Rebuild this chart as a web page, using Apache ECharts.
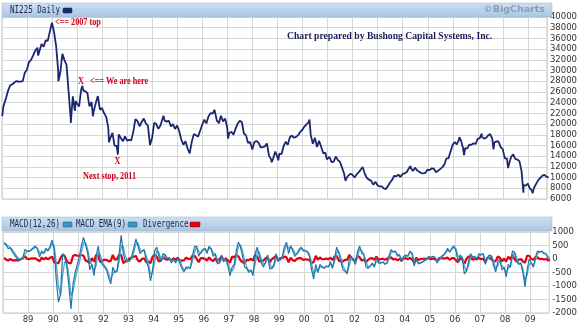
<!DOCTYPE html>
<html><head><meta charset="utf-8">
<script src="https://cdn.jsdelivr.net/npm/echarts@6/dist/echarts.min.js"></script>
<style>html,body{margin:0;padding:0;background:#fff}#c{width:580px;height:331px}</style>
</head><body><div id="c"></div>
<script>
// ---- DATA (monthly, Jan 1988 .. Oct 2009) ----
const firstYear = 1988;
const yearLabels = ['89','90','91','92','93','94','95','96','97','98','99','00','01','02','03','04','05','06','07','08','09'];

// NI225 monthly closes
const nikkeiClose = [
  23622,24850,26260,27256,27417,27769,28024,27911,27924,28020,29578,30159,
  31581,31985,32838,33713,34266,32948,34953,34431,35636,35549,37268,38916,
  37189,34591,29980,29584,33130,31940,31035,25978,20984,25194,22454,23849,
  23293,26409,26292,26111,25790,23291,24121,22336,23916,25222,22687,22984,
  22023,21339,19346,17391,18348,15952,15910,18061,17399,16768,17684,16925,
  17024,16953,18591,20920,20552,19590,20381,21027,20106,19704,16408,17417,
  20229,19998,19112,19725,20974,20644,20449,20629,19564,19990,19077,19723,
  18650,17054,16140,16807,15437,14517,16678,18117,17913,17655,18744,19868,
  20813,20125,21407,22041,21956,22531,20693,20167,21556,20467,21020,19361,
  18330,18557,18003,19151,20069,20605,20331,18229,17888,16459,16636,15259,
  16628,16832,16527,15641,15671,15830,16379,14108,13406,13565,14883,13842,
  14499,14368,15837,16701,16112,17530,17862,17437,17605,17942,18558,18934,
  19540,19960,20337,17974,16332,17411,15727,16861,15747,14540,14649,13786,
  13844,12884,12999,13934,13262,12969,11861,10714,9775,10366,10697,10543,
  9998,10588,11025,11493,11764,10622,9877,9619,9383,8640,9216,8579,
  8340,8363,7973,7831,8425,9083,9563,10344,10219,10560,10101,10677,
  10784,11042,11715,11762,11236,11858,11326,11082,10824,10771,10899,11489,
  11388,11741,11669,11009,11277,11584,11900,12414,13574,13607,14872,16111,
  16650,16205,17060,16906,15467,15505,15457,16141,16128,16399,16274,17226,
  17383,17604,17288,17400,17876,18138,17249,16569,16786,16737,15681,15308,
  13592,13603,12526,13850,14338,13481,13377,13073,11260,8577,8512,8860,
  7994,7568,8110,8828,9523,9958,10357,10493,10133,10035
];
// intra-month turning points visible in the chart
const nikkeiTurnDates  = ['1988-01-04','1988-01-20','1989-06-12','1990-04-02','1990-06-07','1990-10-01','1990-12-12','1991-03-18','1991-06-20','1991-08-19','1992-04-09','1992-08-18','1993-09-03','1993-11-29','1994-06-13','1995-07-03','1996-06-26','1997-01-10','1998-10-09','1999-01-13','2000-04-12','2000-12-21','2001-09-20','2002-05-27','2003-04-28','2004-04-26','2006-04-07','2006-06-14','2007-02-26','2007-07-09','2007-08-17','2008-03-17','2008-06-06','2008-10-27','2009-03-10','2009-08-26'];
const nikkeiTurnValues = [21500,23200,32800,28002,33192,20222,24300,27146,24000,21456,16598,14309,21148,16078,21552,14485,22666,17303,12879,13232,20833,13423,9382,11979,7607,12163,17563,14219,18215,18262,15273,11787,14489,7162,7054,10639];

const macdLine = [
  620,520,380,420,260,150,40,-60,-20,60,350,300,
  280,350,420,480,350,80,300,200,400,300,480,700,
  300,-800,-1600,-1300,200,100,-300,-1000,-1850,-900,-500,-200,
  100,500,800,500,200,-400,-200,-620,100,480,-100,-200,
  -300,-400,-700,-920,-300,-500,-450,200,880,200,-70,-100,
  -50,100,400,740,500,200,300,350,-100,-300,-810,-400,
  300,440,100,-100,200,150,0,50,-150,0,-150,50,
  -150,-350,-480,-300,-300,-350,100,450,480,100,250,350,
  400,200,480,350,100,200,-180,-150,150,-100,0,-250,
  -620,-300,-200,300,625,450,100,-300,-350,-500,-400,-620,
  200,440,100,-150,-300,-100,150,-370,-350,-200,200,-100,
  0,100,450,625,200,500,300,100,200,350,440,300,
  300,250,100,-400,-740,-200,-500,-200,-300,-350,-250,-300,
  -100,-350,50,440,200,-100,-400,-450,-550,0,100,-50,
  -200,300,480,200,150,-300,-350,-250,-150,-300,50,-150,
  -150,-100,-200,-150,100,350,250,300,100,150,-100,100,
  150,100,300,200,-260,0,-180,-150,-100,-50,0,100,
  50,100,50,-150,0,100,150,250,400,250,400,480,
  300,-100,150,50,-550,-450,-100,200,50,100,0,200,
  150,200,-200,50,150,100,-250,-480,-100,0,-400,-300,
  -660,-200,-300,300,250,-100,-200,-150,-500,-1030,-400,0,
  -150,-300,70,300,250,300,200,200,0,-50
];
const macdSignal = [
  550,560,470,420,340,230,110,20,-10,20,180,280,
  290,320,380,440,400,220,220,230,320,330,400,560,
  500,-200,-1000,-1350,-600,-100,-150,-600,-1350,-1200,-750,-400,
  -150,250,600,600,350,-50,-250,-450,-250,250,150,-100,
  -250,-350,-550,-800,-550,-450,-450,-100,500,450,100,-50,
  -80,20,250,550,600,350,280,320,100,-150,-550,-550,
  -100,300,250,0,50,150,50,30,-50,-50,-100,-30,
  -50,-250,-400,-380,-320,-330,-100,250,450,300,200,300,
  380,300,380,400,230,150,0,-150,0,0,-50,-150,
  -400,-450,-300,50,450,530,300,-50,-300,-430,-420,-520,
  -200,300,250,0,-200,-150,50,-150,-350,-280,0,0,
  -50,50,300,520,400,420,380,220,180,280,400,350,
  320,280,170,-150,-550,-400,-450,-300,-280,-330,-280,-280,
  -180,-280,-100,250,300,50,-250,-400,-500,-250,50,0,
  -120,100,380,300,180,-100,-300,-280,-200,-250,-100,-80,
  -150,-120,-160,-160,0,250,280,280,180,150,0,50,
  100,120,230,230,-50,-80,-120,-150,-120,-70,-20,50,
  70,80,70,-50,-50,50,120,200,320,300,350,430,
  380,100,80,80,-250,-450,-250,50,100,80,30,120,
  170,180,0,-20,80,120,-100,-350,-250,-80,-250,-330,
  -500,-350,-280,50,250,50,-150,-150,-350,-800,-600,-200,
  -150,-250,-50,200,260,280,230,200,80,0
];
const macdDivergence = [
  40,-25,-55,0,-50,-50,-40,-50,-5,25,100,10,
  -5,20,25,25,-30,-85,50,-20,50,-20,50,85,
  -120,-150,-150,30,150,120,-90,-150,-150,120,150,120,
  120,150,120,-60,-90,-150,30,-90,150,120,-120,-60,
  -30,-30,-90,-70,150,-30,0,150,150,-150,-100,-30,
  20,50,90,110,-60,-90,10,20,-120,-90,-150,90,
  150,85,-90,-60,90,0,-30,10,-60,30,-30,50,
  -60,-60,-50,50,10,-10,120,120,20,-120,30,30,
  10,-60,60,-30,-80,30,-110,0,90,-60,30,-60,
  -130,90,60,150,100,-50,-120,-150,-30,-40,10,-60,
  150,85,-90,-90,-60,30,60,-130,0,50,120,-60,
  30,30,90,60,-120,50,-50,-70,10,40,25,-30,
  -10,-20,-40,-150,-110,120,-30,60,-10,-10,20,-10,
  50,-40,90,110,-60,-90,-90,-30,-30,150,30,-30,
  -50,120,60,-60,-20,-120,-30,20,30,-30,90,-40,
  0,10,-25,5,60,60,-20,10,-50,0,-60,30,
  30,-10,40,-20,-125,50,-35,0,10,10,10,30,
  -10,10,-10,-60,30,30,20,30,50,-30,30,30,
  -50,-120,40,-20,-180,0,90,90,-30,10,-20,50,
  -10,10,-120,40,40,-10,-90,-80,90,50,-90,20,
  -100,90,-10,150,0,-90,-30,0,-90,-140,120,120,
  0,-30,70,60,-5,10,-20,0,-50,-30
];

// ---- build series data ----
function dateToYear(s){
  const d = Date.parse(s + 'T00:00:00Z');
  const y = +s.slice(0,4);
  const a = Date.UTC(y,0,1), b = Date.UTC(y+1,0,1);
  return y + (d - a) / (b - a);
}
const pricePts = nikkeiClose.map((v,i)=>[firstYear + (i+1)/12 - 0.006, v]);
nikkeiTurnDates.forEach((d,i)=>pricePts.push([dateToYear(d), nikkeiTurnValues[i]]));
pricePts.sort((a,b)=>a[0]-b[0]);
const midX = i => firstYear + (i+0.5)/12;
const macdPts = macdLine.map((v,i)=>[midX(i), v]);
const sigPts = macdSignal.map((v,i)=>[midX(i), v]);
const divPts = macdDivergence.map((v,i)=>[midX(i), v]);

const chart = echarts.init(document.getElementById('c'), null, {renderer:'canvas'});
const gridLine = {show:true, lineStyle:{color:'#d6d6d6', width:1}};
const axLabel = {color:'#333', fontSize:8.5, fontFamily:'DejaVu Sans'};
const xCommon = {type:'value', min:1988, max:2009.76, interval:1,
  axisLine:{show:false}, axisTick:{show:false}, splitLine:gridLine};
const hdrFill = new echarts.graphic.LinearGradient(0,0,0,1,[{offset:0,color:'#cfe0f1'},{offset:1,color:'#a9c5e2'}]);
const mono = 'DejaVu Sans Mono';
const serif = 'Liberation Serif';
const red = '#c8001a';

function txt(text, x, y, o){
  return {type:'text', x:x, y:y, scaleX:o.sx || 1, z:11,
    style:{text:text, x:0, y:0, fill:o.fill, fontSize:o.fs, fontWeight:o.fw || 'normal',
      fontFamily:o.ff, align:o.align || 'left', verticalAlign:'middle'}};
}
const hdr = {fill:'#1c2547', fs:10.5, ff:mono, sx:0.72};
const ann = {fill:red, fs:10, fw:'bold', ff:serif, sx:0.82};

chart.setOption({
  animation:false,
  backgroundColor:'#fff',
  grid:[
    {left:2, top:17, width:549, height:182, show:true, borderColor:'#c4c4c4', borderWidth:1},
    {left:2, top:232, width:549, height:81, show:true, borderColor:'#c4c4c4', borderWidth:1}
  ],
  xAxis:[
    Object.assign({gridIndex:0, axisLabel:{show:false}}, xCommon),
    Object.assign({gridIndex:1, axisLabel:Object.assign({margin:2, formatter:v=>{const k=Math.round(v)-1989;return (k>=0&&k<yearLabels.length)?yearLabels[k]:'';}}, axLabel)}, xCommon)
  ],
  yAxis:[
    {gridIndex:0, type:'value', position:'right', min:6000, max:40000, interval:2000,
     axisLine:{show:false}, axisTick:{show:false}, splitLine:gridLine,
     axisLabel:Object.assign({margin:3, formatter:v=>String(v)}, axLabel)},
    {gridIndex:1, type:'value', position:'right', min:-2000, max:1000, interval:500,
     axisLine:{show:false}, axisTick:{show:false}, splitLine:gridLine,
     axisLabel:Object.assign({margin:3, formatter:v=>String(v)}, axLabel)}
  ],
  series:[
    {type:'line', xAxisIndex:0, yAxisIndex:0, data:pricePts, showSymbol:false,
     lineStyle:{color:'#1b2670', width:1.8}},
    {type:'line', xAxisIndex:1, yAxisIndex:1, data:divPts, showSymbol:false,
     lineStyle:{color:'#e3000f', width:2.2}},
    {type:'line', xAxisIndex:1, yAxisIndex:1, data:sigPts, showSymbol:false,
     lineStyle:{color:'#4aa9cf', width:1.3}},
    {type:'line', xAxisIndex:1, yAxisIndex:1, data:macdPts, showSymbol:false,
     lineStyle:{color:'#1f74a6', width:1.2}}
  ],
  graphic:[
    {type:'rect', shape:{x:2, y:3, width:550, height:14}, style:{fill:hdrFill, stroke:'#9fb6cf', lineWidth:0.5}, z:10},
    {type:'rect', shape:{x:2, y:217, width:550, height:14}, style:{fill:hdrFill, stroke:'#9fb6cf', lineWidth:0.5}, z:10},
    txt('NI225 Daily', 10, 10.5, hdr),
    {type:'rect', shape:{x:63, y:8, width:9, height:5, r:1}, style:{fill:'#1d2a7a', stroke:'#0e1640', lineWidth:0.5}, z:11},
    txt('©BigCharts', 545, 10, {fill:'#8a9db3', fs:9.5, fw:'bold', ff:'DejaVu Sans', align:'right', sx:1}),
    txt('MACD(12,26)', 10, 224.5, hdr),
    {type:'rect', shape:{x:63, y:222, width:9, height:5, r:1}, style:{fill:'#3b97c4', stroke:'#1b4a66', lineWidth:0.5}, z:11},
    txt('MACD EMA(9)', 76, 224.5, hdr),
    {type:'rect', shape:{x:128, y:222, width:9, height:5, r:1}, style:{fill:'#3b97c4', stroke:'#1b4a66', lineWidth:0.5}, z:11},
    txt('Divergence', 143, 224.5, hdr),
    {type:'rect', shape:{x:190, y:222, width:10, height:5, r:1}, style:{fill:'#e3000f', stroke:'#7a0008', lineWidth:0.5}, z:11},
    txt('<== 2007 top', 55, 22, ann),
    txt('X', 78, 81, ann),
    txt('<== We are here', 90, 81, ann),
    txt('X', 114.5, 161, ann),
    txt('Next stop, 2011', 83, 176, ann),
    txt('Chart prepared by Bushong Capital Systems, Inc.', 287, 36.5, {fill:'#1b1f55', fs:10.5, fw:'bold', ff:serif, sx:0.92})
  ]
});
</script></body></html>
